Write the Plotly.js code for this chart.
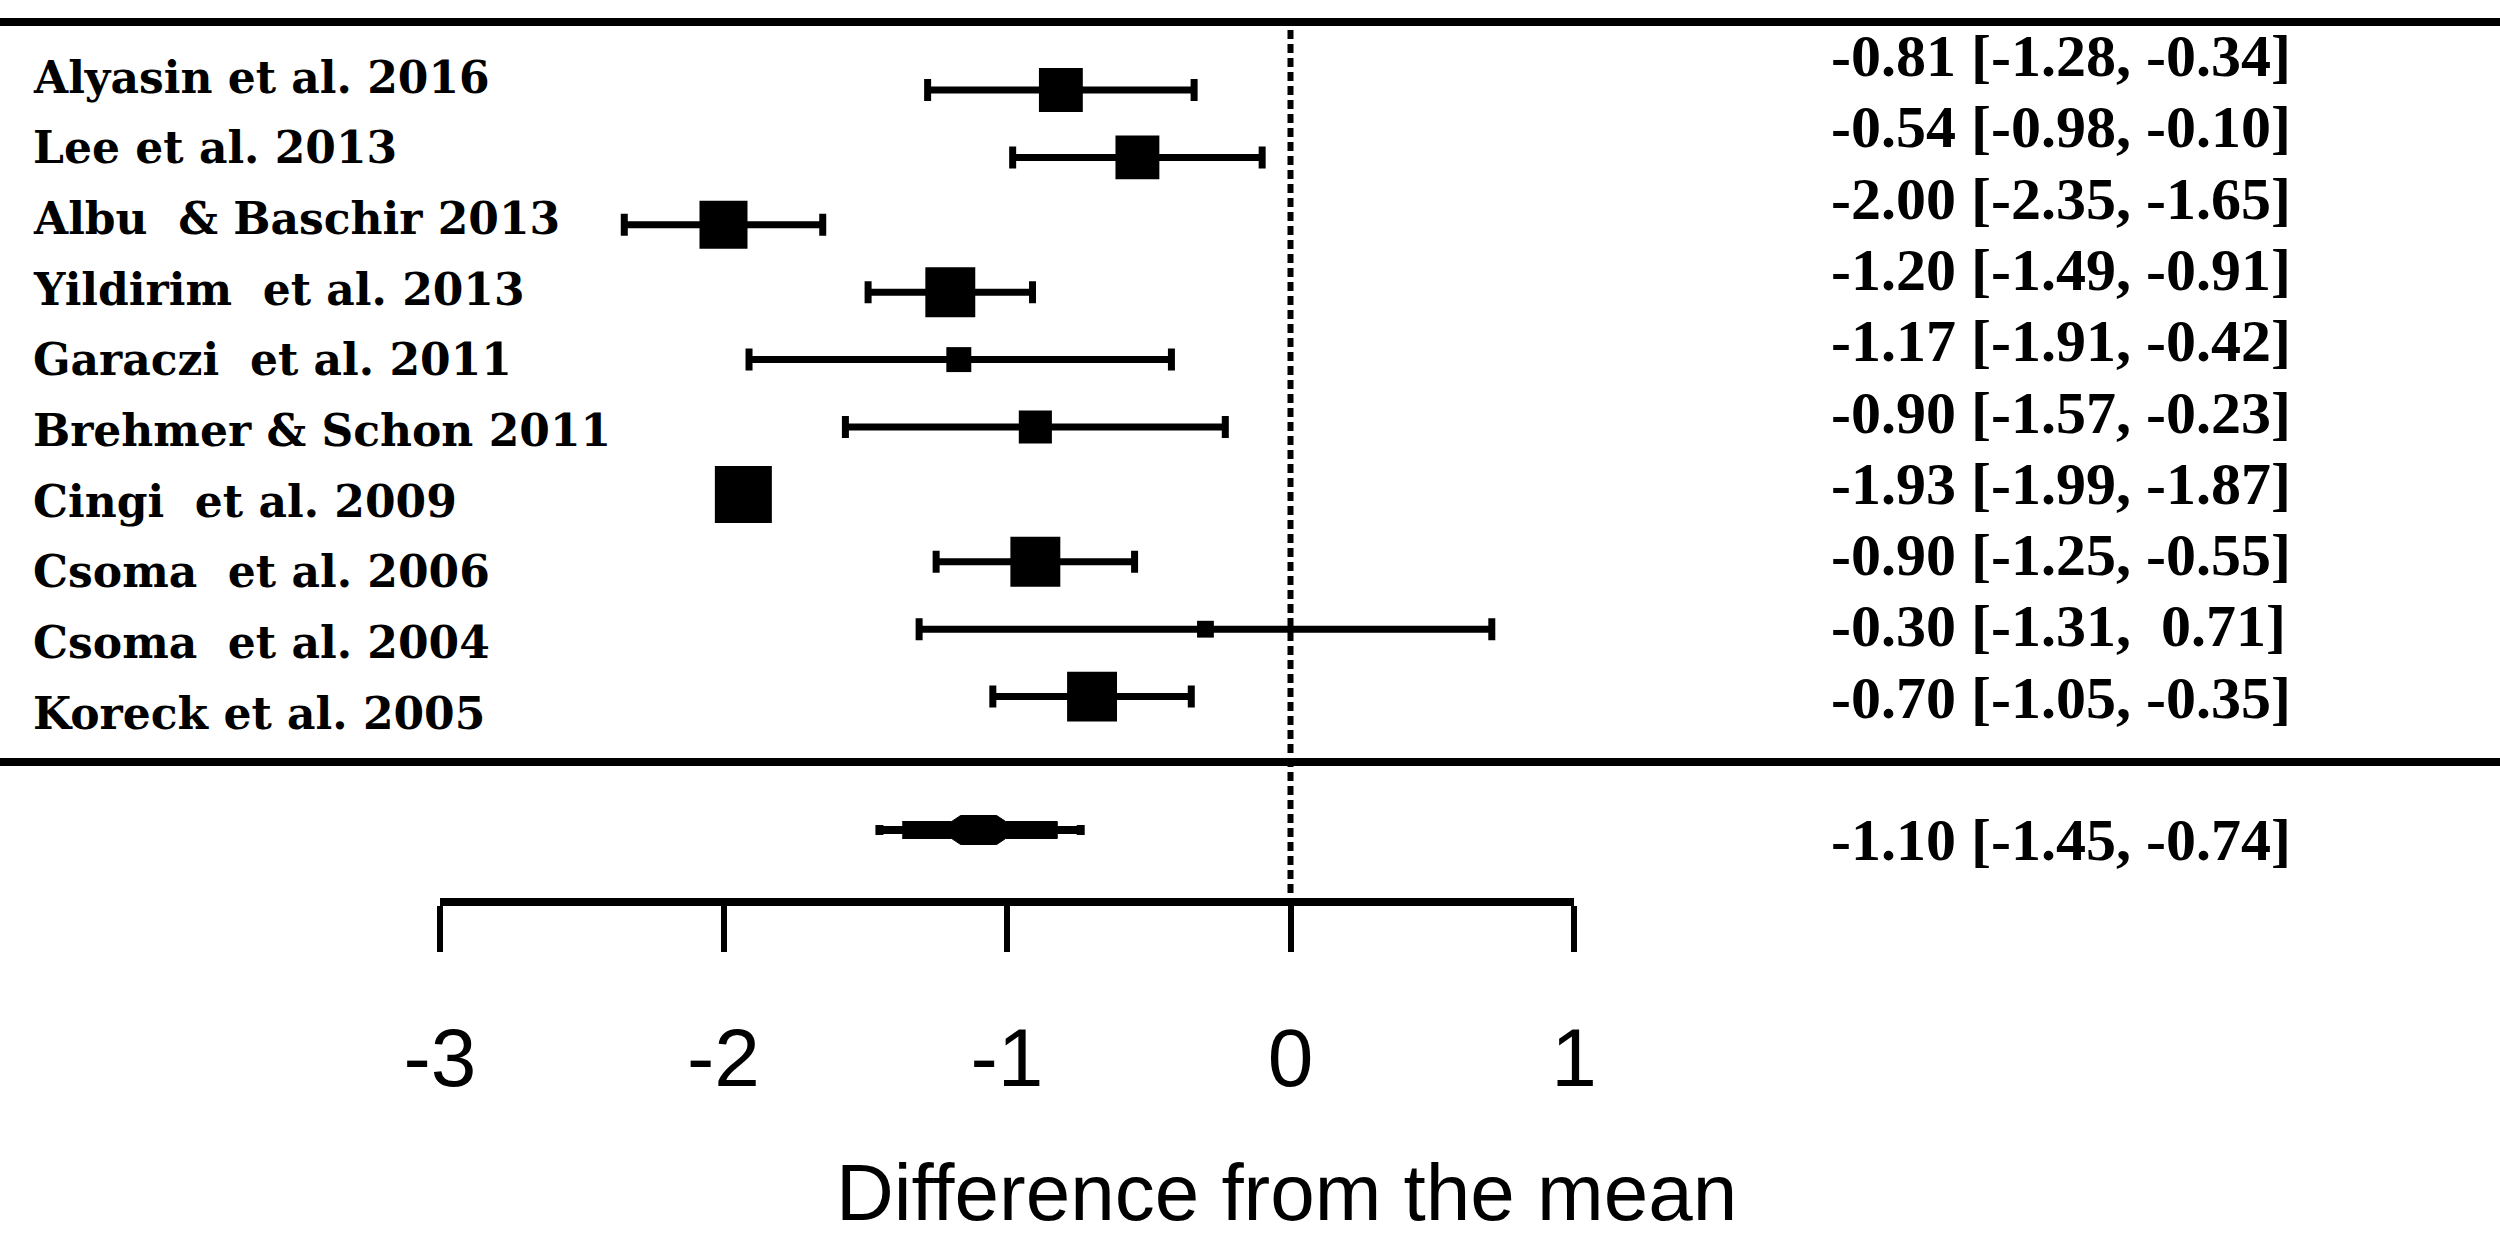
<!DOCTYPE html>
<html>
<head>
<meta charset="utf-8">
<script src="https://cdn.plot.ly/plotly-3.0.1.min.js"></script>
<style>
  html, body { margin: 0; padding: 0; background: #ffffff; }
  #chart { width: 2500px; height: 1249px; }
</style>
</head>
<body>
<div id="chart"></div>
<script>
// ---------------- DATA ----------------
const studies = [
  "Alyasin et al. 2016",
  "Lee et al. 2013",
  "Albu\u00A0 & Baschir 2013",
  "Yildirim\u00A0 et al. 2013",
  "Garaczi\u00A0 et al. 2011",
  "Brehmer & Schon 2011",
  "Cingi\u00A0 et al. 2009",
  "Csoma\u00A0 et al. 2006",
  "Csoma\u00A0 et al. 2004",
  "Koreck et al. 2005"
];
const estimates = [-0.81, -0.54, -2.00, -1.20, -1.17, -0.90, -1.93, -0.90, -0.30, -0.70];
const ciLow     = [-1.28, -0.98, -2.35, -1.49, -1.91, -1.57, -1.99, -1.25, -1.31, -1.05];
const ciHigh    = [-0.34, -0.10, -1.65, -0.91, -0.42, -0.23, -1.87, -0.55,  0.71, -0.35];
// relative study weights (%), read from square areas
const weights   = [10.2, 10.2, 12.2, 13.2, 3.3, 5.8, 17.2, 13.2, 1.5, 13.2];
const ciLabels = [
  "-0.81 [-1.28, -0.34]",
  "-0.54 [-0.98, -0.10]",
  "-2.00 [-2.35, -1.65]",
  "-1.20 [-1.49, -0.91]",
  "-1.17 [-1.91, -0.42]",
  "-0.90 [-1.57, -0.23]",
  "-1.93 [-1.99, -1.87]",
  "-0.90 [-1.25, -0.55]",
  "-0.30 [-1.31,\u00A0 0.71]",
  "-0.70 [-1.05, -0.35]"
];
const summaryEstimate = -1.10;
const summaryLow = -1.45;
const summaryHigh = -0.74;
const summaryLabel = "-1.10 [-1.45, -0.74]";
const tickValues = [-3, -2, -1, 0, 1];
const tickLabels = ["-3", "-2", "-1", "0", "1"];
const axisTitle = "Difference from the mean";

// ---------------- LAYOUT HELPERS ----------------
const W = 2500, H = 1249;
const axisMinPx = 440, axisMaxPx = 1574;        // pixel extent of axis -3..1
const pxPerUnit = (axisMaxPx - axisMinPx) / (tickValues[tickValues.length-1] - tickValues[0]);
const markerRowY = i => 90 + 67.4 * i;          // y (px) of study marks
const leftRowY   = i => 77 + 70.7 * i;          // y (px) of study names
const rightRowY  = i => 56 + 71.3 * i;          // y (px) of CI labels
const summaryY = 830, summaryLabelY = 840;
const sizeScale = 13.74;

const black = "#000000";
const rowIdx = studies.map((_, i) => i);

// confidence intervals (drawn first so squares sit on top)
const ciTrace = {
  type: "scatter", mode: "markers",
  x: estimates,
  y: rowIdx.map(markerRowY),
  marker: { size: 1, color: black, opacity: 0 },
  error_x: {
    type: "data", symmetric: false,
    array: estimates.map((e, i) => ciHigh[i] - e),
    arrayminus: estimates.map((e, i) => e - ciLow[i]),
    color: black, thickness: 7, width: 11
  },
  hoverinfo: "skip", cliponaxis: false
};

const studyTrace = {
  type: "scatter", mode: "markers",
  x: estimates,
  y: rowIdx.map(markerRowY),
  marker: { symbol: "square", color: black, opacity: 1,
            size: weights.map(w => Math.sqrt(w) * sizeScale), line: { width: 0 } },
  hoverinfo: "skip", cliponaxis: false
};

const summaryLine = {
  type: "scatter", mode: "markers",
  x: [summaryEstimate], y: [summaryY],
  marker: { size: 1, color: black, opacity: 0 },
  error_x: {
    type: "data", symmetric: false,
    array: [summaryHigh - summaryEstimate],
    arrayminus: [summaryEstimate - summaryLow],
    color: black, thickness: 8, width: 5
  },
  hoverinfo: "skip", cliponaxis: false
};

// stepped summary diamond
const hwL = summaryEstimate - summaryLow, hwR = summaryHigh - summaryEstimate;
const dx = px => px / pxPerUnit;
const polyX = [
  summaryEstimate - 0.77 * hwL, summaryEstimate - dx(27), summaryEstimate - dx(18),
  summaryEstimate + dx(18), summaryEstimate + dx(27), summaryEstimate + 0.77 * hwR,
  summaryEstimate + 0.77 * hwR, summaryEstimate + dx(27), summaryEstimate + dx(18),
  summaryEstimate - dx(18), summaryEstimate - dx(27), summaryEstimate - 0.77 * hwL
];
const polyY = [
  summaryY - 8.5, summaryY - 8.5, summaryY - 14.5,
  summaryY - 14.5, summaryY - 8.5, summaryY - 8.5,
  summaryY + 8.5, summaryY + 8.5, summaryY + 14.5,
  summaryY + 14.5, summaryY + 8.5, summaryY + 8.5
];
const summaryPoly = {
  type: "scatter", mode: "lines",
  x: polyX, y: polyY, fill: "toself", fillcolor: black,
  line: { color: black, width: 1 },
  hoverinfo: "skip"
};

const annotations = [];
studies.forEach((s, i) => {
  annotations.push({
    xref: "paper", yref: "y", x: 31 / W, y: leftRowY(i),
    xanchor: "left", yanchor: "middle", showarrow: false,
    text: "<b>" + s + "</b>",
    font: { family: "DejaVu Serif", size: 44, color: black }
  });
});
ciLabels.forEach((s, i) => {
  annotations.push({
    xref: "paper", yref: "y", x: 1829 / W, y: rightRowY(i),
    xanchor: "left", yanchor: "middle", showarrow: false,
    text: "<b>" + s + "</b>",
    font: { family: "Liberation Serif", size: 60, color: black }
  });
});
annotations.push({
  xref: "paper", yref: "y", x: 1829 / W, y: summaryLabelY,
  xanchor: "left", yanchor: "middle", showarrow: false,
  text: "<b>" + summaryLabel + "</b>",
  font: { family: "Liberation Serif", size: 60, color: black }
});
annotations.push({
  xref: "paper", yref: "y", x: 1286 / W, y: 1192,
  xanchor: "center", yanchor: "middle", showarrow: false,
  text: axisTitle,
  font: { family: "Liberation Sans", size: 80, color: black }
});

const shapes = [
  { type: "line", xref: "paper", yref: "y", x0: 0, x1: 1, y0: 22, y1: 22, line: { color: black, width: 8 } },
  { type: "line", xref: "paper", yref: "y", x0: 0, x1: 1, y0: 762, y1: 762, line: { color: black, width: 8 } },
  { type: "line", xref: "x", yref: "y", x0: 0, x1: 0, y0: 30, y1: 898, line: { color: black, width: 6, dash: "9px,5px" } }
];

const layout = {
  width: W, height: H,
  margin: { l: 0, r: 0, t: 0, b: 0, pad: 0 },
  paper_bgcolor: "#ffffff", plot_bgcolor: "#ffffff",
  showlegend: false,
  xaxis: {
    domain: [axisMinPx / W, axisMaxPx / W],
    range: [tickValues[0], tickValues[tickValues.length - 1]],
    anchor: "free", position: 1 - 902 / H, side: "bottom",
    tickmode: "array", tickvals: tickValues, ticktext: tickLabels,
    ticks: "outside", ticklen: 46, tickwidth: 6, tickcolor: black,
    showline: true, linewidth: 8, linecolor: black,
    showgrid: false, zeroline: false,
    ticklabelstandoff: 36,
    tickfont: { family: "Liberation Sans", size: 82, color: black },
    fixedrange: true
  },
  yaxis: {
    domain: [0, 1], range: [H, 0], visible: false,
    showgrid: false, zeroline: false, fixedrange: true
  },
  shapes: shapes,
  annotations: annotations
};

Plotly.newPlot("chart", [ciTrace, summaryLine, summaryPoly, studyTrace], layout, { displayModeBar: false, staticPlot: true });
</script>
</body>
</html>
